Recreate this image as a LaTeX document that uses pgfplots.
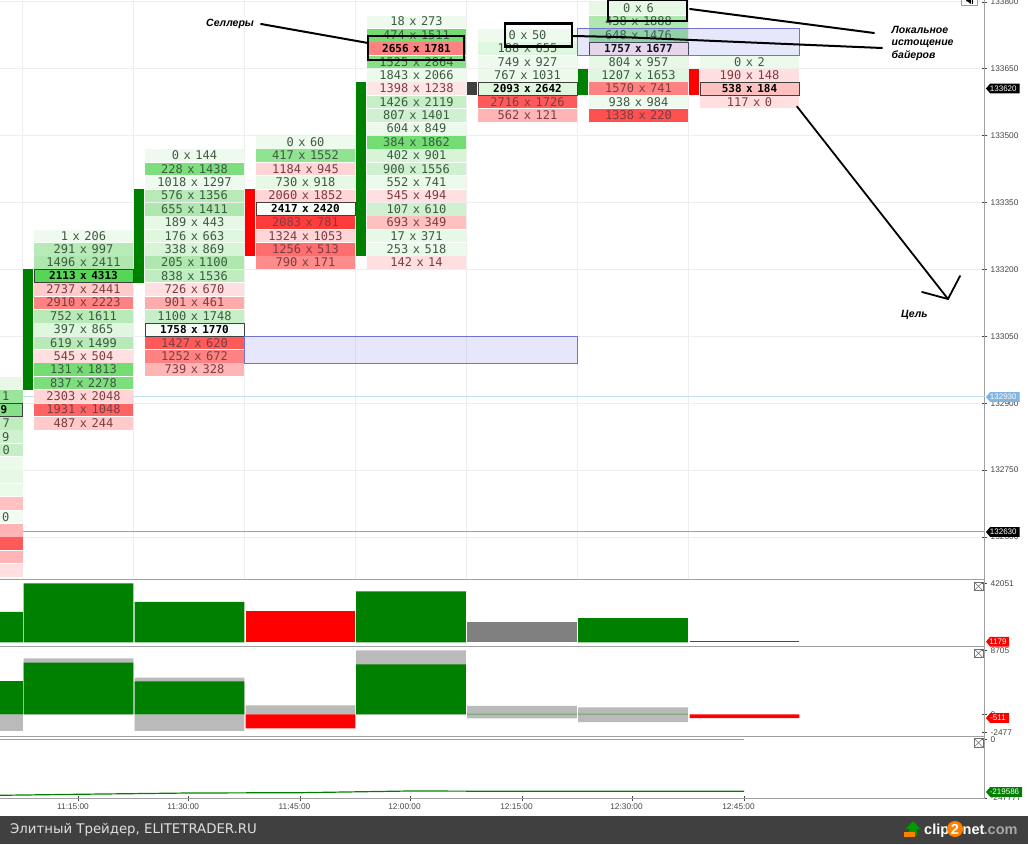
\documentclass[border=0pt]{standalone}
\usepackage{fontspec}
\usepackage{pgfplots}
\usepackage{pgfplotstable}
\pgfplotsset{compat=1.18}
\setmainfont{Liberation Sans}
\newfontfamily\cellfont{DejaVu Sans Mono}
\newfontfamily\footfont{DejaVu Sans}
\definecolor{cgreen}{RGB}{0,128,0}
\definecolor{cred}{RGB}{255,0,0}
\definecolor{cdark}{RGB}{64,64,64}
\definecolor{cgray}{RGB}{128,128,128}
\definecolor{crange}{RGB}{186,186,186}
\definecolor{axgray}{RGB}{160,160,160}
\definecolor{gridc}{RGB}{238,238,238}
\definecolor{ticktxt}{RGB}{70,70,70}
\definecolor{txtgreen}{RGB}{60,90,65}
\definecolor{txtred}{RGB}{125,60,65}
\definecolor{lav}{RGB}{100,110,235}
\definecolor{lavline}{RGB}{115,115,205}
\definecolor{ctagblue}{RGB}{130,180,225}
\definecolor{cblueline}{RGB}{195,220,240}

\pgfdeclareplotmark{cell}{\pgfpathrectangle{\pgfpoint{-49.5pt}{-6.3pt}}{\pgfpoint{99pt}{12.6pt}}\pgfusepathqfill}
\pgfdeclareplotmark{cellz}{\pgfpathrectangle{\pgfpoint{0pt}{-6.3pt}}{\pgfpoint{22.5pt}{12.6pt}}\pgfusepathqfill}
\pgfdeclareplotmark{poc}{\pgfpathrectangle{\pgfpoint{-49.5pt}{-6.5pt}}{\pgfpoint{99pt}{13pt}}\pgfusepathqstroke}
\pgfdeclareplotmark{pocz}{\pgfpathrectangle{\pgfpoint{-5pt}{-6.5pt}}{\pgfpoint{27.5pt}{13pt}}\pgfusepathqstroke}

% columns: price of the row's centre, shade (-1 red ... 1 green), label (g/r + bid x ask)
\pgfplotstableread{
p s lab
133275 .1 g1x206
133245 .45 g291x997
133215 .5 g1496x2411
133155 -.25 r2737x2441
133125 -.6 r2910x2223
133095 .45 g752x1611
133065 .2 g397x865
133035 .45 g619x1499
133005 -.15 r545x504
132975 .8 g131x1813
132945 .75 g837x2278
132915 -.2 r2303x2048
132885 -.75 r1931x1048
132855 -.25 r487x244
}\colA
\pgfplotstableread{
p s lab
133455 .1 g0x144
133425 .75 g228x1438
133395 .1 g1018x1297
133365 .45 g576x1356
133335 .5 g655x1411
133305 .15 g189x443
133275 .2 g176x663
133245 .25 g338x869
133215 .5 g205x1100
133185 .4 g838x1536
133155 -.15 r726x670
133125 -.4 r901x461
133095 .35 g1100x1748
133035 -.8 r1427x620
133005 -.6 r1252x672
132975 -.35 r739x328
}\colB
\pgfplotstableread{
p s lab
133485 .1 g0x60
133455 .65 g417x1552
133425 -.2 r1184x945
133395 .15 g730x918
133365 -.2 r2060x1852
133305 -.95 r2083x781
133275 -.2 r1324x1053
133245 -.7 r1256x513
133215 -.55 r790x171
}\colC
\pgfplotstableread{
p s lab
133755 .1 g18x273
133725 .8 g474x1511
133665 .7 g1525x2864
133635 .12 g1843x2066
133605 -.12 r1398x1238
133575 .35 g1426x2119
133545 .3 g807x1401
133515 .12 g604x849
133485 .8 g384x1862
133455 .25 g402x901
133425 .3 g900x1556
133395 .12 g552x741
133365 -.15 r545x494
133335 .3 g107x610
133305 -.3 r693x349
133275 .15 g17x371
133245 .12 g253x518
133215 -.15 r142x14
}\colD
\pgfplotstableread{
p s lab
133725 .1 g0x50
133695 .2 g188x655
133665 .1 g749x927
133635 .12 g767x1031
133575 -.8 r2716x1726
133545 -.35 r562x121
}\colE
\pgfplotstableread{
p s lab
133785 .15 g0x6
133755 .5 g438x1888
133725 .6 g648x1476
133665 .15 g804x957
133635 .2 g1207x1653
133605 -.6 r1570x741
133575 .1 g938x984
133545 -.85 r1338x220
}\colF
\pgfplotstableread{
p s lab
133665 .12 g0x2
133635 -.15 r190x148
133575 -.15 r117x0
}\colG
% the bold row (largest volume) of every bar
\pgfplotstableread{
x p s lab
83.5 133185 .95 2113x4313
194.5 133065 .05 1758x1770
305.5 133335 .05 2417x2420
416.5 133695 -.6 2656x1781
527.5 133605 .2 2093x2642
638.5 133695 -.1 1757x1677
749.5 133605 -.3 538x184
}\colPoc
\pgfplotstableread{
p s
132945 .15
132915 .6
132885 .7
132855 .4
132825 .3
132795 .35
132765 .12
132735 .15
132705 .12
132675 -.3
132645 .08
132615 -.35
132585 -.8
132555 -.35
132525 -.15
}\colZ

\def\splitlab#1#2x#3\relax{\if#1r\color{txtred}\else\color{txtgreen}\fi#2\hspace{4.5pt}x\hspace{4.5pt}#3}
\def\splitbold#1x#2\relax{#1\hspace{4.5pt}x\hspace{4.5pt}#2}

\newcommand\cells[2]{%
\addplot[scatter, only marks, mark=cell, point meta=explicit] table[x expr=#1, y=p, meta=s]{#2};
\addplot[only marks, mark=none, point meta=explicit symbolic,
 nodes near coords={\cellfont\fontsize{12}{12}\selectfont\expandafter\splitlab\pgfplotspointmeta\relax},
 every node near coord/.append style={anchor=center, inner sep=0pt, yshift=0.3pt}]
 table[x expr=#1, y=p, meta=lab]{#2};}
\newcommand\candle[5]{\addplot[fill=#5, draw=none] coordinates {(#1,#3)(#2,#3)(#2,#4)(#1,#4)} -- cycle;}

\pgfplotsset{
 colormap={fp}{rgb255=(255,50,50) rgb255=(255,150,150) rgb255=(255,255,255) rgb255=(175,232,175) rgb255=(75,212,75)},
 pane/.style={scale only axis, width=984.5pt, anchor=south west, xmin=0, xmax=984.5,
  axis y line=right, axis x line=bottom, axis line style={axgray, line width=1pt, -},
  tick style={color=ticktxt, line width=.6pt}, major tick length=5pt, xtick style={draw=none},
  scaled y ticks=false, scaled x ticks=false,
  ticklabel style={font=\fontsize{8.3}{8.3}\selectfont, text=ticktxt, inner sep=1pt},
  yticklabel style={xshift=2.5pt, /pgf/number format/fixed, /pgf/number format/1000 sep={}, /pgf/number format/assume math mode=true},
  xtick=\empty},
 barp/.style={ybar, bar width=109.8pt, bar shift=0pt, draw=none}
}
\newcommand\tagbox[5]{% y, colour, text colour, text, right edge
 \fill[#2] (986,#1) -- (990,#1-4.8) -- (#5,#1-4.8) -- (#5,#1+4.8) -- (990,#1+4.8) -- cycle;
 \node[text=#3, font=\fontsize{8}{8}\selectfont, anchor=center, inner sep=0pt] at (988+#5/2-494.5,#1) {#4};}
\newcommand\xbox[2]{\draw[axgray!70!black, line width=.6pt] (#1,#2) rectangle (#1+8.5,#2+8.5);
 \draw[axgray!70!black, line width=.5pt] (#1,#2) -- (#1+8.5,#2+8.5) (#1,#2+8.5) -- (#1+8.5,#2);}

\begin{document}
\begin{tikzpicture}
\path[use as bounding box, fill=white] (0,0) rectangle (1028pt,844pt);

% price pane
\begin{axis}[pane, at={(0pt,264pt)}, height=580pt,
 ymin=132503.6, ymax=133804.1, clip mode=individual,
 ytick={132600,132750,132900,133050,133200,133350,133500,133650,133800},
 xtick={22.5,133.5,244.5,355.5,466.5,577.5,688.5}, xticklabels={},
 grid=major, grid style={gridc, line width=.7pt},
 colormap name=fp, point meta min=-1, point meta max=1]
 \addplot[draw=cblueline, line width=1pt] coordinates {(0,132915)(984.5,132915)};
 \addplot[draw=axgray, line width=1pt] coordinates {(0,132612)(984.5,132612)};
 \addplot[scatter, only marks, mark=cellz, point meta=explicit] table[x expr=0, y=p, meta=s]{\colZ};
 \cells{83.5}{\colA}
 \cells{194.5}{\colB}
 \cells{305.5}{\colC}
 \cells{416.5}{\colD}
 \cells{527.5}{\colE}
 \cells{638.5}{\colF}
 \cells{749.5}{\colG}
 \addplot[scatter, only marks, mark=cell, point meta=explicit] table[x=x, y=p, meta=s]{\colPoc};
 \addplot[only marks, mark=none, point meta=explicit symbolic,
  nodes near coords={\cellfont\bfseries\fontsize{11}{11}\selectfont\color{black}\expandafter\splitbold\pgfplotspointmeta\relax},
  every node near coord/.append style={anchor=center, inner sep=0pt, yshift=0.3pt}]
  table[x=x, y=p, meta=lab]{\colPoc};
 \addplot[only marks, mark=poc, mark options={draw=cdark, line width=.8pt}] coordinates
  {(83.5,133185)(194.5,133065)(305.5,133335)(527.5,133605)(638.5,133695)(749.5,133605)};
 \addplot[only marks, mark=pocz, mark options={draw=cdark, line width=.8pt}] coordinates {(0,132885)};
 \candle{23}{33}{132930}{133200}{cgreen}
 \candle{134}{144}{133170}{133380}{cgreen}
 \candle{245}{255}{133230}{133380}{cred}
 \candle{356}{366}{133230}{133620}{cgreen}
 \candle{467}{477}{133590}{133620}{cdark}
 \candle{578}{588}{133590}{133650}{cgreen}
 \candle{689}{699}{133590}{133650}{cred}
 \addplot[fill=lav, fill opacity=.16, draw=lavline, line width=.8pt] coordinates {(244.5,132990)(577,132990)(577,133050)(244.5,133050)} -- cycle;
 \addplot[fill=lav, fill opacity=.16, draw=lavline, line width=.8pt] coordinates {(577,133680)(799,133680)(799,133740)(577,133740)} -- cycle;
\end{axis}

% volume pane
\begin{axis}[pane, at={(0pt,197.3pt)}, height=66.7pt, ymin=-3136, ymax=44404, ytick={42051}]
 \addplot[barp, fill=cgreen] coordinates {(-32,21600)(78.5,42051)(189.5,28900)(411,36350)(633,17300)};
 \addplot[barp, fill=cred] coordinates {(300.5,22500)};
 \addplot[barp, fill=cgray] coordinates {(522,14250)};
 \addplot[barp, fill=cred] coordinates {(744.5,1179)};
\end{axis}

% delta pane
\begin{axis}[pane, at={(0pt,107.5pt)}, height=89.8pt, ymin=-3020, ymax=9197, ytick={-2477,0,8705}]
 \addplot[barp, fill=crange] coordinates {(-32,0)(78.5,7620)(189.5,4980)(300.5,1225)(411,8705)(522,1130)(633,950)};
 \addplot[barp, fill=crange] coordinates {(-32,-2270)(189.5,-2270)(522,-545)(633,-1050)};
 \addplot[barp, fill=cgreen] coordinates {(-32,4530)(78.5,7020)(189.5,4490)(411,6800)(522,50)(633,50)};
 \addplot[barp, fill=cred] coordinates {(300.5,-1900)(744.5,-511)};
\end{axis}

% cumulative pane with time axis
\begin{axis}[pane, at={(0pt,45.3pt)}, height=62.2pt, ymin=-250845, ymax=11824, ytick={-247777,0},
 xtick={78.5,188.7,300,410,522,632,744},
 xticklabels={11:15:00,11:30:00,11:45:00,12:00:00,12:15:00,12:30:00,12:45:00},
 xtick style={draw=ticktxt, line width=.6pt},
 xticklabel style={xshift=-5.5pt, yshift=-1pt}]
 \addplot[draw=axgray, line width=1pt] coordinates {(0,0)(744,0)};
 \addplot[draw=cgreen, line width=1.2pt] coordinates {(0,-236500)(78.5,-232200)(188.7,-226800)(300,-225500)(410,-218300)(522,-219600)(632,-219600)(744,-219586)};
\end{axis}

\begin{scope}[x=1pt, y=-1pt, shift={(0pt,844pt)}]
 % first column fragments of the cut-off bar
 \begin{scope}[font=\cellfont\fontsize{12}{12}\selectfont, text=txtgreen]
  \node[anchor=east, inner sep=0pt] at (9.5,396.5) {1};
  \node[anchor=east, inner sep=0pt, text=black, font=\cellfont\bfseries\fontsize{11}{11}\selectfont] at (7.5,410) {9};
  \node[anchor=east, inner sep=0pt] at (10,423.5) {7};
  \node[anchor=east, inner sep=0pt] at (9.5,437) {9};
  \node[anchor=east, inner sep=0pt] at (10,450) {0};
  \node[anchor=east, inner sep=0pt] at (9.5,517) {0};
 \end{scope}
 % pane icons
 \xbox{974.3}{582}
 \xbox{974.3}{649}
 \xbox{974.3}{738.5}
 \draw[axgray, line width=.7pt] (961.5,-1) rectangle (977,5.3);
 \fill[black] (966,0) -- (971,0) -- (971,4) -- (966,0.5) -- cycle;
 \fill[black] (972,0) rectangle (973.2,4.3);
 % price tags
 \tagbox{88.5}{black}{white}{133620}{1019.5}
 \tagbox{397}{ctagblue}{white}{132930}{1019.5}
 \tagbox{532}{black}{white}{132630}{1019.5}
 \tagbox{641.7}{cred}{white}{1179}{1009}
 \tagbox{718}{cred}{white}{-511}{1009}
 \tagbox{792}{cgreen}{white}{-219586}{1022}
 % annotations
 \begin{scope}[draw=black, line width=2pt, line cap=round]
  \draw (261,24) -- (368,43);
  \draw[line width=2.8pt] (368,36) rectangle (464,60);
  \draw[line width=2.8pt] (505,23.5) rectangle (572,46.5);
  \draw[line width=2.8pt] (608,0) rectangle (687,21);
  \draw (572,36) -- (620,37) -- (882,48);
  \draw (690,9) -- (874,33);
  \draw[line width=1.8pt] (797,106.5) -- (948,299);
  \draw[line width=1.8pt] (922,292) -- (948,299) -- (960,276);
 \end{scope}
 \begin{scope}[font=\bfseries\itshape\fontsize{10.5}{10.5}\selectfont, inner sep=0pt]
  \node[anchor=west] at (206,24) {Селлеры};
  \node[anchor=west] at (891.5,30) {Локальное};
  \node[anchor=west] at (891.5,43.5) {истощение};
  \node[anchor=west] at (891.5,56) {байеров};
  \node[anchor=west] at (901,314.5) {Цель};
 \end{scope}
 % footer
 \fill[cdark] (0,816) rectangle (1028,844);
 \node[anchor=west, inner sep=0pt, text=white!88!black, font=\footfont\fontsize{13.3}{13.3}\selectfont] at (10,829.5) {Элитный Трейдер, ELITETRADER.RU};
 \fill[green!60!black] (913,821) -- (920.5,829) -- (917,829) -- (917,836) -- (909,836) -- (909,829) -- (905.5,829) -- cycle;
 \fill[orange] (903.5,831.5) rectangle (915,836.5);
 \begin{scope}[font=\bfseries\fontsize{14.5}{14.5}\selectfont, inner sep=0pt]
  \node[anchor=base west, text=white] at (924,834) {clip};
  \fill[orange] (955,829) circle (8);
  \node[anchor=base, text=white] at (955,834) {2};
  \node[anchor=base west, text=white] at (962.5,834) {net};
  \node[anchor=base west, text=white!65!black] at (983.5,834) {.com};
 \end{scope}
\end{scope}
\end{tikzpicture}
\end{document}
